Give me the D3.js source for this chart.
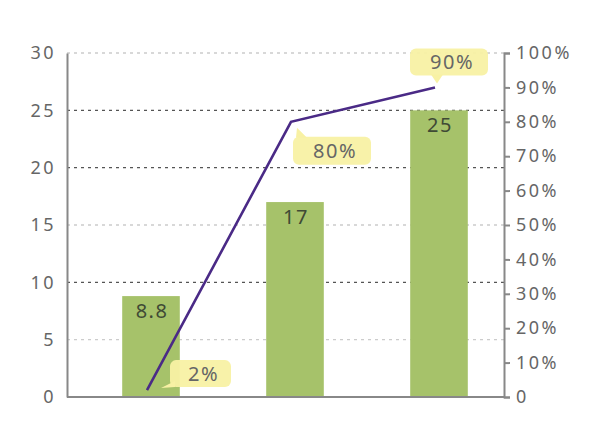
<!DOCTYPE html>
<html>
<head>
<meta charset="utf-8">
<script src="https://cdn.jsdelivr.net/npm/d3@7"></script>
<style>
  body { margin: 0; background: #fff; }
  text { font-family: "Noto Sans", "DejaVu Sans", sans-serif; }
</style>
</head>
<body>
<svg width="600" height="438"></svg>
<script>
// data
var categories = ['A', 'B', 'C'];
var barValues = [8.8, 17, 25];
var rateValues = [0.02, 0.80, 0.90];
var rateLabels = ['2%', '80%', '90%'];
var leftTicks = [0, 5, 10, 15, 20, 25, 30];
var rightTicks = [0, 0.1, 0.2, 0.3, 0.4, 0.5, 0.6, 0.7, 0.8, 0.9, 1];
var darkGrid = [10, 20, 25];

var svg = d3.select('svg');

// plot box (note: "top" is taken by window.top)
var pLeft = 67, pRight = 504, pTop = 53, pBottom = 397;

var x = d3.scaleBand().domain(categories).range([79, 511]).paddingInner(0.6).paddingOuter(0.3);
var y = d3.scaleLinear().domain([0, 30]).range([pBottom, pTop]);
var y2 = d3.scaleLinear().domain([0, 1]).range([pBottom, pTop]);

// grid
svg.append('g').selectAll('line')
  .data(leftTicks.filter(function(d){ return d > 0; }))
  .enter().append('line')
  .attr('x1', pLeft).attr('x2', pRight)
  .attr('y1', function(d){ return y(d); })
  .attr('y2', function(d){ return y(d); })
  .attr('stroke', function(d){ return darkGrid.includes(d) ? '#555' : '#ccc'; })
  .attr('stroke-width', 1.4)
  .attr('stroke-dasharray', '3,4');

// bars
svg.append('g').selectAll('rect')
  .data(barValues)
  .enter().append('rect')
  .attr('x', function(d, i){ return x(categories[i]); })
  .attr('width', x.bandwidth())
  .attr('y', function(d){ return y(d); })
  .attr('height', function(d){ return pBottom - y(d); })
  .attr('fill', '#a6c26a');

svg.append('g').selectAll('text')
  .data(barValues)
  .enter().append('text')
  .attr('x', function(d, i){ return x(categories[i]) + x.bandwidth()/2 + 1; })
  .attr('y', function(d){ return y(d) + 22; })
  .attr('text-anchor', 'middle')
  .attr('font-size', 20)
  .attr('letter-spacing', 1.5)
  .attr('fill', '#3f4a35')
  .text(function(d){ return d; });

// left axis
var la = svg.append('g').attr('transform', 'translate(' + pLeft + ',0)')
  .call(d3.axisLeft(y).tickValues(leftTicks).tickSize(0).tickPadding(11));
la.select('.domain').attr('stroke', '#888').attr('stroke-width', 2);
la.selectAll('text').attr('font-size', 18).attr('fill', '#666').attr('letter-spacing', 2.5);

// right axis
var ra = svg.append('g').attr('transform', 'translate(' + pRight + ',0)')
  .call(d3.axisRight(y2).tickValues(rightTicks).tickSize(6).tickSizeOuter(6).tickPadding(6)
    .tickFormat(function(d){ return d === 0 ? '0' : Math.round(d*100) + '%'; }));
ra.select('.domain').attr('stroke', '#888').attr('stroke-width', 2);
ra.selectAll('line').attr('stroke', '#888').attr('stroke-width', 2);
ra.selectAll('text').attr('font-size', 18).attr('fill', '#666').attr('letter-spacing', 2.5);

// baseline
svg.append('line')
  .attr('x1', pLeft).attr('x2', pRight)
  .attr('y1', y(0)).attr('y2', y(0))
  .attr('stroke', '#888').attr('stroke-width', 2);

// rate line
var pts = rateValues.map(function(d, i){
  return [x(categories[i]) + x.bandwidth()/2 - 4, y2(d)];
});

svg.append('path')
  .attr('d', d3.line()(pts))
  .attr('fill', 'none')
  .attr('stroke', '#4a2a86')
  .attr('stroke-width', 2.6);

// callout boxes, offsets from the point: box [x0, y0, x1, y1], tail [[x,y]...]
var callouts = [
  { box: [23, -30, 84, -3], tail: [[28, -9], [28, -3], [14, -2]] },
  { box: [2, 15, 80, 43], tail: [[5, 16], [16, 16], [6, 6]] },
  { box: [-25, -39, 53, -12], tail: [[-4, -13], [8, -13], [2, -4]] }
];

var cg = svg.append('g');
callouts.forEach(function(c, i){
  var p = pts[i];
  var b = c.box;
  cg.append('rect')
    .attr('x', p[0] + b[0]).attr('y', p[1] + b[1])
    .attr('width', b[2] - b[0]).attr('height', b[3] - b[1])
    .attr('rx', 6)
    .attr('fill', '#f8f1a4')
    .attr('opacity', 0.95);
  cg.append('path')
    .attr('d', d3.line()(c.tail.map(function(t){ return [p[0] + t[0], p[1] + t[1]]; })) + 'Z')
    .attr('fill', '#f8f1a4');
  cg.append('text')
    .attr('x', p[0] + (b[0] + b[2])/2 + 3)
    .attr('y', p[1] + (b[1] + b[3])/2 + 7)
    .attr('text-anchor', 'middle')
    .attr('font-size', 20)
    .attr('letter-spacing', 1.5)
    .attr('fill', '#666')
    .text(rateLabels[i]);
});
</script>
</body>
</html>
